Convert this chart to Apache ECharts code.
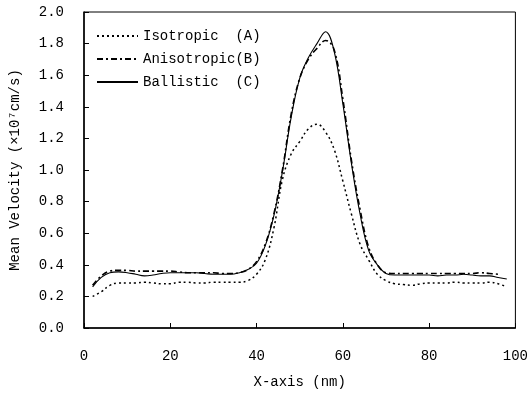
<!DOCTYPE html>
<html>
<head>
<meta charset="utf-8">
<script src="https://cdn.jsdelivr.net/npm/echarts@6/dist/echarts.min.js"></script>
<style>
html,body{margin:0;padding:0;background:#fff;}
#chart{width:531px;height:394px;}
</style>
</head>
<body>
<div id="chart"></div>
<script>
const xValues = [2,4,6,8,10,12,14,16,18,20,22,24,26,28,30,32,34,36,38,40,42,44,46,48,50,52,54,56,58,60,62,64,66,68,70,72,74,76,78,80,82,84,86,88,90,92,94,96,98];
const isotropicA = [0.20,0.23,0.27,0.285,0.285,0.285,0.29,0.285,0.28,0.28,0.29,0.29,0.285,0.285,0.29,0.29,0.29,0.29,0.30,0.34,0.43,0.63,0.94,1.10,1.18,1.26,1.29,1.24,1.13,0.93,0.72,0.53,0.43,0.34,0.30,0.28,0.275,0.27,0.28,0.285,0.285,0.285,0.29,0.285,0.285,0.285,0.29,0.28,0.26];
const anisotropicB = [0.27,0.33,0.36,0.365,0.365,0.36,0.36,0.36,0.36,0.36,0.355,0.35,0.35,0.35,0.35,0.345,0.345,0.35,0.37,0.42,0.53,0.72,1.00,1.35,1.58,1.70,1.77,1.82,1.76,1.45,1.06,0.75,0.51,0.40,0.35,0.345,0.345,0.345,0.345,0.345,0.345,0.345,0.345,0.345,0.345,0.35,0.345,0.34,null];
const ballisticC = [0.26,0.32,0.35,0.355,0.35,0.34,0.33,0.335,0.345,0.35,0.35,0.35,0.35,0.345,0.34,0.34,0.34,0.35,0.37,0.41,0.52,0.71,0.99,1.33,1.58,1.71,1.80,1.875,1.75,1.42,1.04,0.72,0.49,0.40,0.345,0.335,0.335,0.335,0.335,0.335,0.33,0.335,0.335,0.34,0.335,0.33,0.33,0.32,0.31];
const seriesNames = ['Isotropic  (A)','Anisotropic(B)','Ballistic  (C)'];
const yTicks = {min:0, max:2.0, interval:0.2};
const xTicks = {min:0, max:100, interval:20};

const FONT = 'Liberation Mono';
function pairs(ys){ return xValues.map((x,i)=>[x, ys[i]]).filter(p=>p[1]!==null); }

const chart = echarts.init(document.getElementById('chart'), null, {renderer:'canvas'});
chart.setOption({
  animation:false,
  backgroundColor:'#fff',
  textStyle:{fontFamily:FONT, color:'#000'},
  grid:{left:83, right:14, top:12, bottom:65, show:true, borderColor:'#000', borderWidth:1},
  legend:{
    orient:'vertical', left:91, top:24, itemWidth:41, itemHeight:14, itemGap:9,
    itemStyle:{opacity:0},
    textStyle:{fontFamily:FONT, fontSize:14, color:'#000'},
    data:seriesNames
  },
  xAxis:{
    type:'value', min:xTicks.min, max:xTicks.max, interval:xTicks.interval,
    name:'X-axis (nm)', nameLocation:'middle', nameGap:47,
    nameTextStyle:{fontFamily:FONT, fontSize:14, color:'#000'},
    axisLine:{show:true, lineStyle:{color:'#000', width:1.5}},
    axisTick:{show:true, inside:true, length:5, lineStyle:{color:'#000'}},
    axisLabel:{fontFamily:FONT, fontSize:14, color:'#000', margin:21},
    splitLine:{show:false}
  },
  yAxis:{
    type:'value', min:yTicks.min, max:yTicks.max, interval:yTicks.interval,
    name:'Mean Velocity (×10⁷cm/s)', nameLocation:'middle', nameGap:62, nameRotate:90,
    nameTextStyle:{fontFamily:FONT, fontSize:14, color:'#000'},
    axisLine:{show:true, lineStyle:{color:'#000', width:1.5}},
    axisTick:{show:true, inside:true, length:5, lineStyle:{color:'#000'}},
    axisLabel:{fontFamily:FONT, fontSize:14, color:'#000', margin:20, formatter:v=>v.toFixed(1)},
    splitLine:{show:false}
  },
  series:[
    {name:seriesNames[0], type:'line', smooth:0.4, showSymbol:false, symbol:'none', data:pairs(isotropicA),
     lineStyle:{color:'#000', width:1.5, type:[2,3]}, itemStyle:{color:'#000'}},
    {name:seriesNames[1], type:'line', smooth:0.4, showSymbol:false, symbol:'none', data:pairs(anisotropicB),
     lineStyle:{color:'#000', width:1.6, type:[6,3,2,3]}, itemStyle:{color:'#000'}},
    {name:seriesNames[2], type:'line', smooth:0.4, showSymbol:false, symbol:'none', data:pairs(ballisticC),
     lineStyle:{color:'#000', width:1.1, type:'solid'}, itemStyle:{color:'#000'}}
  ]
});
</script>
</body>
</html>
